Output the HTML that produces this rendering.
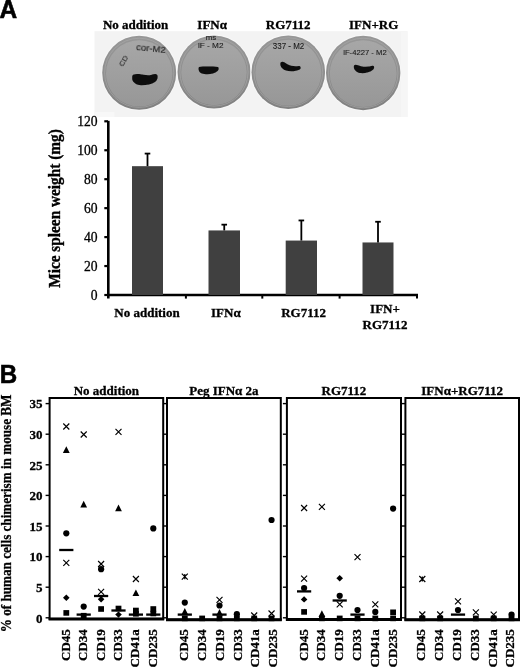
<!DOCTYPE html>
<html><head><meta charset="utf-8"><style>
html,body{margin:0;padding:0;background:#fff;}
svg{display:block;}
</style></head><body>
<svg width="520" height="667" viewBox="0 0 520 667">
<defs><linearGradient id="dishg" x1="0" y1="0" x2="0" y2="1"><stop offset="0" stop-color="#979797"/><stop offset="0.5" stop-color="#8f8f8f"/><stop offset="1" stop-color="#808080"/></linearGradient><linearGradient id="innerg" x1="0" y1="0" x2="0" y2="1"><stop offset="0" stop-color="#a7a7a7"/><stop offset="0.45" stop-color="#a0a0a0"/><stop offset="1" stop-color="#979797"/></linearGradient><filter id="blur1" x="-20%" y="-20%" width="140%" height="140%"><feGaussianBlur stdDeviation="0.45"/></filter><filter id="blur2" x="-20%" y="-20%" width="140%" height="140%"><feGaussianBlur stdDeviation="0.8"/></filter><filter id="gblur" x="0" y="0" width="100%" height="100%" filterUnits="userSpaceOnUse"><feGaussianBlur stdDeviation="0.35"/></filter></defs><g filter="url(#gblur)"><rect x="94.5" y="31.2" width="313" height="85.8" fill="#f3f3f3"/><rect x="401" y="31.2" width="6.5" height="85.8" fill="#f6f6f6"/><rect x="94.5" y="112" width="20" height="5" fill="#f8f8f8"/><circle cx="139.2" cy="72.8" r="38.0" fill="#f8f8f8"/><circle cx="139.2" cy="72.8" r="37" fill="url(#dishg)"/><circle cx="139.2" cy="72.8" r="34.6" fill="none" stroke="#ababab" stroke-width="1.0" opacity="0.6" filter="url(#blur1)"/><circle cx="139.2" cy="73.39999999999999" r="33.2" fill="url(#innerg)" filter="url(#blur1)"/><path d="M132.2,76.3 C132.5,74 136,73.6 139,74.1 C143,74.8 147,75.6 151,75 C153.5,74.4 156,73.4 157.3,74.9 C158.3,77 157.5,80 155,82 C151.5,84.4 146,85.4 141,85.3 C136.5,85.1 133,82.5 132.2,79.5 Z" fill="#0c0c0c" filter="url(#blur1)"/><text x="136" y="50.3" font-family="Liberation Sans, sans-serif" font-size="8.5" fill="#1a1a1a" stroke="#1a1a1a" stroke-width="0.1" filter="url(#blur1)" textLength="29.5" lengthAdjust="spacingAndGlyphs" transform="rotate(6 136 50.3)">cor-M2</text><text x="123" y="67" font-family="Liberation Sans, sans-serif" font-size="7.5" fill="#1a1a1a" stroke="#1a1a1a" stroke-width="0.1" filter="url(#blur1)" textLength="11" lengthAdjust="spacingAndGlyphs" transform="rotate(-60 123 67)">CD</text><circle cx="214" cy="72" r="37.5" fill="#f8f8f8"/><circle cx="214" cy="72" r="36.5" fill="url(#dishg)"/><circle cx="214" cy="72" r="34.1" fill="none" stroke="#ababab" stroke-width="1.0" opacity="0.6" filter="url(#blur1)"/><circle cx="214" cy="72.6" r="32.7" fill="url(#innerg)" filter="url(#blur1)"/><path d="M199,67 C203,66.3 213,66.5 218,66.9 C219.1,67.5 218.9,69.5 217.6,71 C215,73.4 211,74.3 207.5,74.3 C203,74.3 199.8,73.1 199,71 C198.4,69.5 198.4,67.8 199,67 Z" fill="#0c0c0c" filter="url(#blur1)"/><text x="205.8" y="39.8" font-family="Liberation Sans, sans-serif" font-size="7" fill="#1a1a1a" stroke="#1a1a1a" stroke-width="0.1" filter="url(#blur1)" textLength="10.5" lengthAdjust="spacingAndGlyphs" transform="rotate(0 205.8 39.8)">ms</text><text x="198" y="48.3" font-family="Liberation Sans, sans-serif" font-size="8" fill="#1a1a1a" stroke="#1a1a1a" stroke-width="0.1" filter="url(#blur1)" textLength="25.5" lengthAdjust="spacingAndGlyphs" transform="rotate(0 198 48.3)">lF - M2</text><circle cx="288.3" cy="72.2" r="37.8" fill="#f8f8f8"/><circle cx="288.3" cy="72.2" r="36.8" fill="url(#dishg)"/><circle cx="288.3" cy="72.2" r="34.4" fill="none" stroke="#ababab" stroke-width="1.0" opacity="0.6" filter="url(#blur1)"/><circle cx="288.3" cy="72.8" r="33.0" fill="url(#innerg)" filter="url(#blur1)"/><path d="M280.6,62.5 C282.2,60.6 284.8,62.2 287,64 C290.5,66.1 295,66.5 298.7,65.9 C300.9,65.8 301.3,68.3 299.8,69.5 C295.5,71.6 289.5,71.9 285.3,70.3 C281.8,68.8 279.4,65.3 280.6,62.5 Z" fill="#0c0c0c" filter="url(#blur1)"/><text x="272.8" y="48.9" font-family="Liberation Sans, sans-serif" font-size="8.5" fill="#1a1a1a" stroke="#1a1a1a" stroke-width="0.1" filter="url(#blur1)" textLength="31.5" lengthAdjust="spacingAndGlyphs" transform="rotate(0 272.8 48.9)">337 - M2</text><circle cx="363.2" cy="73" r="38.2" fill="#f8f8f8"/><circle cx="363.2" cy="73" r="37.2" fill="url(#dishg)"/><circle cx="363.2" cy="73" r="34.800000000000004" fill="none" stroke="#ababab" stroke-width="1.0" opacity="0.6" filter="url(#blur1)"/><circle cx="363.2" cy="73.6" r="33.400000000000006" fill="url(#innerg)" filter="url(#blur1)"/><path d="M354,65.6 C355.3,63.9 358,65.4 361,66.3 C365,67.3 369,66.9 372.3,65.7 C374.3,65.3 374.8,67.6 373.3,69.4 C370,72.4 364.5,73.6 360,73.1 C356,72.6 353,69 354,65.6 Z" fill="#0c0c0c" filter="url(#blur1)"/><text x="343.2" y="54.8" font-family="Liberation Sans, sans-serif" font-size="8" fill="#1a1a1a" stroke="#1a1a1a" stroke-width="0.1" filter="url(#blur1)" textLength="43.5" lengthAdjust="spacingAndGlyphs" transform="rotate(0 343.2 54.8)">lF-4227 - M2</text><text x="135.6" y="29.1" font-family='"Liberation Serif", serif' font-size="13" font-weight="bold" text-anchor="middle" stroke="#000" stroke-width="0.3" >No addition</text><text x="212.2" y="29.1" font-family='"Liberation Serif", serif' font-size="13" font-weight="bold" text-anchor="middle" stroke="#000" stroke-width="0.3" >IFN&#945;</text><text x="288.2" y="29.1" font-family='"Liberation Serif", serif' font-size="13" font-weight="bold" text-anchor="middle" stroke="#000" stroke-width="0.3" >RG7112</text><text x="373.7" y="29.1" font-family='"Liberation Serif", serif' font-size="13" font-weight="bold" text-anchor="middle" stroke="#000" stroke-width="0.3" >IFN+RG</text><text x="0" y="0" font-family='"Liberation Sans", sans-serif' font-size="26" font-weight="bold" stroke="#000" stroke-width="0.6" transform="translate(-0.6 17.6) scale(0.94 1)">A</text><line x1="108.3" y1="120.80000000000001" x2="108.3" y2="298.5" stroke="#000" stroke-width="2.6"/><line x1="104.3" y1="295.00" x2="108" y2="295.00" stroke="#000" stroke-width="2.2"/><text x="97.6" y="299.6" font-family='"Liberation Serif", serif' font-size="13.6" font-weight="normal" text-anchor="end" stroke="#000" stroke-width="0.3" >0</text><line x1="104.3" y1="266.05" x2="108" y2="266.05" stroke="#000" stroke-width="2.2"/><text x="97.6" y="270.65000000000003" font-family='"Liberation Serif", serif' font-size="13.6" font-weight="normal" text-anchor="end" stroke="#000" stroke-width="0.3" >20</text><line x1="104.3" y1="237.10" x2="108" y2="237.10" stroke="#000" stroke-width="2.2"/><text x="97.6" y="241.7" font-family='"Liberation Serif", serif' font-size="13.6" font-weight="normal" text-anchor="end" stroke="#000" stroke-width="0.3" >40</text><line x1="104.3" y1="208.15" x2="108" y2="208.15" stroke="#000" stroke-width="2.2"/><text x="97.6" y="212.75" font-family='"Liberation Serif", serif' font-size="13.6" font-weight="normal" text-anchor="end" stroke="#000" stroke-width="0.3" >60</text><line x1="104.3" y1="179.20" x2="108" y2="179.20" stroke="#000" stroke-width="2.2"/><text x="97.6" y="183.79999999999998" font-family='"Liberation Serif", serif' font-size="13.6" font-weight="normal" text-anchor="end" stroke="#000" stroke-width="0.3" >80</text><line x1="104.3" y1="150.25" x2="108" y2="150.25" stroke="#000" stroke-width="2.2"/><text x="97.6" y="154.85" font-family='"Liberation Serif", serif' font-size="13.6" font-weight="normal" text-anchor="end" stroke="#000" stroke-width="0.3" >100</text><line x1="104.3" y1="121.30" x2="108" y2="121.30" stroke="#000" stroke-width="2.2"/><text x="97.6" y="125.9" font-family='"Liberation Serif", serif' font-size="13.6" font-weight="normal" text-anchor="end" stroke="#000" stroke-width="0.3" >120</text><line x1="107" y1="295.0" x2="418" y2="295.0" stroke="#000" stroke-width="2.6"/><line x1="185.9" y1="295.0" x2="185.9" y2="298.6" stroke="#000" stroke-width="2"/><line x1="262.3" y1="295.0" x2="262.3" y2="298.6" stroke="#000" stroke-width="2"/><line x1="339.6" y1="295.0" x2="339.6" y2="298.6" stroke="#000" stroke-width="2"/><line x1="417" y1="295.0" x2="417" y2="298.6" stroke="#000" stroke-width="2"/><rect x="132" y="166.17" width="31" height="128.83" fill="#404040"/><line x1="147.5" y1="166.17" x2="147.5" y2="153.58" stroke="#000" stroke-width="1.8"/><line x1="144.7" y1="153.58" x2="150.3" y2="153.58" stroke="#000" stroke-width="1.8"/><rect x="208.5" y="230.44" width="31.5" height="64.56" fill="#404040"/><line x1="224.25" y1="230.44" x2="224.25" y2="224.65" stroke="#000" stroke-width="1.8"/><line x1="221.45" y1="224.65" x2="227.05" y2="224.65" stroke="#000" stroke-width="1.8"/><rect x="285.7" y="240.57" width="31.30000000000001" height="54.43" fill="#404040"/><line x1="301.35" y1="240.57" x2="301.35" y2="220.45" stroke="#000" stroke-width="1.8"/><line x1="298.55" y1="220.45" x2="304.15000000000003" y2="220.45" stroke="#000" stroke-width="1.8"/><rect x="362.5" y="242.46" width="31.0" height="52.54" fill="#404040"/><line x1="378.0" y1="242.46" x2="378.0" y2="221.76" stroke="#000" stroke-width="1.8"/><line x1="375.2" y1="221.76" x2="380.8" y2="221.76" stroke="#000" stroke-width="1.8"/><text x="147" y="316.5" font-family='"Liberation Serif", serif' font-size="13" font-weight="bold" text-anchor="middle" stroke="#000" stroke-width="0.3" >No addition</text><text x="225.9" y="316.5" font-family='"Liberation Serif", serif' font-size="13" font-weight="bold" text-anchor="middle" stroke="#000" stroke-width="0.3" >IFN&#945;</text><text x="303.6" y="316.5" font-family='"Liberation Serif", serif' font-size="13" font-weight="bold" text-anchor="middle" stroke="#000" stroke-width="0.3" >RG7112</text><text x="385" y="313.3" font-family='"Liberation Serif", serif' font-size="13" font-weight="bold" text-anchor="middle" stroke="#000" stroke-width="0.3" >IFN+</text><text x="385" y="328.6" font-family='"Liberation Serif", serif' font-size="13" font-weight="bold" text-anchor="middle" stroke="#000" stroke-width="0.3" >RG7112</text><text x="0" y="0" font-family='"Liberation Serif", serif' font-size="16" font-weight="bold" stroke="#000" stroke-width="0.35" text-anchor="middle" textLength="158.5" lengthAdjust="spacingAndGlyphs" transform="translate(59.8 208.5) rotate(-90)">Mice spleen weight (mg)</text><text x="0" y="0" font-family='"Liberation Sans", sans-serif' font-size="26" font-weight="bold" stroke="#000" stroke-width="0.6" transform="translate(-0.3 382.6) scale(0.93 1)">B</text><rect x="49.6" y="398.0" width="113.6" height="220.89999999999998" fill="none" stroke="#000" stroke-width="2"/><line x1="48.6" y1="618.9" x2="164.2" y2="618.9" stroke="#000" stroke-width="3"/><line x1="45.6" y1="617.80" x2="49.6" y2="617.80" stroke="#000" stroke-width="1.4"/><line x1="45.6" y1="587.20" x2="49.6" y2="587.20" stroke="#000" stroke-width="1.4"/><line x1="45.6" y1="556.60" x2="49.6" y2="556.60" stroke="#000" stroke-width="1.4"/><line x1="45.6" y1="526.00" x2="49.6" y2="526.00" stroke="#000" stroke-width="1.4"/><line x1="45.6" y1="495.40" x2="49.6" y2="495.40" stroke="#000" stroke-width="1.4"/><line x1="45.6" y1="464.80" x2="49.6" y2="464.80" stroke="#000" stroke-width="1.4"/><line x1="45.6" y1="434.20" x2="49.6" y2="434.20" stroke="#000" stroke-width="1.4"/><line x1="45.6" y1="403.60" x2="49.6" y2="403.60" stroke="#000" stroke-width="1.4"/><text x="106.39999999999999" y="394.5" font-family='"Liberation Serif", serif' font-size="13" font-weight="bold" text-anchor="middle" stroke="#000" stroke-width="0.3" >No addition</text><rect x="167.0" y="398.0" width="113.80000000000001" height="221.70000000000005" fill="none" stroke="#000" stroke-width="2"/><line x1="166.0" y1="619.7" x2="281.8" y2="619.7" stroke="#000" stroke-width="3"/><line x1="163.0" y1="617.80" x2="167.0" y2="617.80" stroke="#000" stroke-width="1.4"/><line x1="163.0" y1="587.20" x2="167.0" y2="587.20" stroke="#000" stroke-width="1.4"/><line x1="163.0" y1="556.60" x2="167.0" y2="556.60" stroke="#000" stroke-width="1.4"/><line x1="163.0" y1="526.00" x2="167.0" y2="526.00" stroke="#000" stroke-width="1.4"/><line x1="163.0" y1="495.40" x2="167.0" y2="495.40" stroke="#000" stroke-width="1.4"/><line x1="163.0" y1="464.80" x2="167.0" y2="464.80" stroke="#000" stroke-width="1.4"/><line x1="163.0" y1="434.20" x2="167.0" y2="434.20" stroke="#000" stroke-width="1.4"/><line x1="163.0" y1="403.60" x2="167.0" y2="403.60" stroke="#000" stroke-width="1.4"/><text x="223.9" y="394.5" font-family='"Liberation Serif", serif' font-size="13" font-weight="bold" text-anchor="middle" stroke="#000" stroke-width="0.3" >Peg IFN&#945; 2a</text><rect x="286.9" y="398.0" width="114.10000000000002" height="221.60000000000002" fill="none" stroke="#000" stroke-width="2"/><line x1="285.9" y1="619.6" x2="402.0" y2="619.6" stroke="#000" stroke-width="3"/><line x1="282.9" y1="617.80" x2="286.9" y2="617.80" stroke="#000" stroke-width="1.4"/><line x1="282.9" y1="587.20" x2="286.9" y2="587.20" stroke="#000" stroke-width="1.4"/><line x1="282.9" y1="556.60" x2="286.9" y2="556.60" stroke="#000" stroke-width="1.4"/><line x1="282.9" y1="526.00" x2="286.9" y2="526.00" stroke="#000" stroke-width="1.4"/><line x1="282.9" y1="495.40" x2="286.9" y2="495.40" stroke="#000" stroke-width="1.4"/><line x1="282.9" y1="464.80" x2="286.9" y2="464.80" stroke="#000" stroke-width="1.4"/><line x1="282.9" y1="434.20" x2="286.9" y2="434.20" stroke="#000" stroke-width="1.4"/><line x1="282.9" y1="403.60" x2="286.9" y2="403.60" stroke="#000" stroke-width="1.4"/><text x="343.95" y="394.5" font-family='"Liberation Serif", serif' font-size="13" font-weight="bold" text-anchor="middle" stroke="#000" stroke-width="0.3" >RG7112</text><rect x="405.4" y="398.0" width="113.60000000000002" height="221.70000000000005" fill="none" stroke="#000" stroke-width="2"/><line x1="404.4" y1="619.7" x2="520" y2="619.7" stroke="#000" stroke-width="3"/><line x1="401.4" y1="617.80" x2="405.4" y2="617.80" stroke="#000" stroke-width="1.4"/><line x1="401.4" y1="587.20" x2="405.4" y2="587.20" stroke="#000" stroke-width="1.4"/><line x1="401.4" y1="556.60" x2="405.4" y2="556.60" stroke="#000" stroke-width="1.4"/><line x1="401.4" y1="526.00" x2="405.4" y2="526.00" stroke="#000" stroke-width="1.4"/><line x1="401.4" y1="495.40" x2="405.4" y2="495.40" stroke="#000" stroke-width="1.4"/><line x1="401.4" y1="464.80" x2="405.4" y2="464.80" stroke="#000" stroke-width="1.4"/><line x1="401.4" y1="434.20" x2="405.4" y2="434.20" stroke="#000" stroke-width="1.4"/><line x1="401.4" y1="403.60" x2="405.4" y2="403.60" stroke="#000" stroke-width="1.4"/><text x="462.2" y="394.5" font-family='"Liberation Serif", serif' font-size="13" font-weight="bold" text-anchor="middle" stroke="#000" stroke-width="0.3" >IFN&#945;+RG7112</text><text x="42.6" y="622.5999999999999" font-family='"Liberation Serif", serif' font-size="13" font-weight="bold" text-anchor="end" stroke="#000" stroke-width="0.3" >0</text><text x="42.6" y="591.9999999999999" font-family='"Liberation Serif", serif' font-size="13" font-weight="bold" text-anchor="end" stroke="#000" stroke-width="0.3" >5</text><text x="42.6" y="561.3999999999999" font-family='"Liberation Serif", serif' font-size="13" font-weight="bold" text-anchor="end" stroke="#000" stroke-width="0.3" >10</text><text x="42.6" y="530.8" font-family='"Liberation Serif", serif' font-size="13" font-weight="bold" text-anchor="end" stroke="#000" stroke-width="0.3" >15</text><text x="42.6" y="500.2" font-family='"Liberation Serif", serif' font-size="13" font-weight="bold" text-anchor="end" stroke="#000" stroke-width="0.3" >20</text><text x="42.6" y="469.59999999999997" font-family='"Liberation Serif", serif' font-size="13" font-weight="bold" text-anchor="end" stroke="#000" stroke-width="0.3" >25</text><text x="42.6" y="438.99999999999994" font-family='"Liberation Serif", serif' font-size="13" font-weight="bold" text-anchor="end" stroke="#000" stroke-width="0.3" >30</text><text x="42.6" y="408.4" font-family='"Liberation Serif", serif' font-size="13" font-weight="bold" text-anchor="end" stroke="#000" stroke-width="0.3" >35</text><text x="0" y="0" font-family='"Liberation Serif", serif' font-size="14" font-weight="bold" stroke="#000" stroke-width="0.3" text-anchor="middle" textLength="237.7" lengthAdjust="spacingAndGlyphs" transform="translate(11.2 513.4) rotate(-90)">% of human cells chimerism in mouse BM</text><text x="0" y="0" font-family='"Liberation Serif", serif' font-size="13.3" font-weight="bold" text-anchor="end" stroke="#000" stroke-width="0.3" textLength="31.6" lengthAdjust="spacingAndGlyphs" transform="translate(69.90 629.3) rotate(-90)">CD45</text><text x="0" y="0" font-family='"Liberation Serif", serif' font-size="13.3" font-weight="bold" text-anchor="end" stroke="#000" stroke-width="0.3" textLength="31.6" lengthAdjust="spacingAndGlyphs" transform="translate(87.25 629.3) rotate(-90)">CD34</text><text x="0" y="0" font-family='"Liberation Serif", serif' font-size="13.3" font-weight="bold" text-anchor="end" stroke="#000" stroke-width="0.3" textLength="31.6" lengthAdjust="spacingAndGlyphs" transform="translate(104.60 629.3) rotate(-90)">CD19</text><text x="0" y="0" font-family='"Liberation Serif", serif' font-size="13.3" font-weight="bold" text-anchor="end" stroke="#000" stroke-width="0.3" textLength="31.6" lengthAdjust="spacingAndGlyphs" transform="translate(121.95 629.3) rotate(-90)">CD33</text><text x="0" y="0" font-family='"Liberation Serif", serif' font-size="13.3" font-weight="bold" text-anchor="end" stroke="#000" stroke-width="0.3" textLength="38.2" lengthAdjust="spacingAndGlyphs" transform="translate(139.30 629.3) rotate(-90)">CD41a</text><text x="0" y="0" font-family='"Liberation Serif", serif' font-size="13.3" font-weight="bold" text-anchor="end" stroke="#000" stroke-width="0.3" textLength="38.2" lengthAdjust="spacingAndGlyphs" transform="translate(156.65 629.3) rotate(-90)">CD235</text><text x="0" y="0" font-family='"Liberation Serif", serif' font-size="13.3" font-weight="bold" text-anchor="end" stroke="#000" stroke-width="0.3" textLength="31.6" lengthAdjust="spacingAndGlyphs" transform="translate(188.30 629.3) rotate(-90)">CD45</text><text x="0" y="0" font-family='"Liberation Serif", serif' font-size="13.3" font-weight="bold" text-anchor="end" stroke="#000" stroke-width="0.3" textLength="31.6" lengthAdjust="spacingAndGlyphs" transform="translate(206.05 629.3) rotate(-90)">CD34</text><text x="0" y="0" font-family='"Liberation Serif", serif' font-size="13.3" font-weight="bold" text-anchor="end" stroke="#000" stroke-width="0.3" textLength="31.6" lengthAdjust="spacingAndGlyphs" transform="translate(223.80 629.3) rotate(-90)">CD19</text><text x="0" y="0" font-family='"Liberation Serif", serif' font-size="13.3" font-weight="bold" text-anchor="end" stroke="#000" stroke-width="0.3" textLength="31.6" lengthAdjust="spacingAndGlyphs" transform="translate(241.55 629.3) rotate(-90)">CD33</text><text x="0" y="0" font-family='"Liberation Serif", serif' font-size="13.3" font-weight="bold" text-anchor="end" stroke="#000" stroke-width="0.3" textLength="38.2" lengthAdjust="spacingAndGlyphs" transform="translate(259.30 629.3) rotate(-90)">CD41a</text><text x="0" y="0" font-family='"Liberation Serif", serif' font-size="13.3" font-weight="bold" text-anchor="end" stroke="#000" stroke-width="0.3" textLength="38.2" lengthAdjust="spacingAndGlyphs" transform="translate(277.05 629.3) rotate(-90)">CD235</text><text x="0" y="0" font-family='"Liberation Serif", serif' font-size="13.3" font-weight="bold" text-anchor="end" stroke="#000" stroke-width="0.3" textLength="31.6" lengthAdjust="spacingAndGlyphs" transform="translate(307.60 629.3) rotate(-90)">CD45</text><text x="0" y="0" font-family='"Liberation Serif", serif' font-size="13.3" font-weight="bold" text-anchor="end" stroke="#000" stroke-width="0.3" textLength="31.6" lengthAdjust="spacingAndGlyphs" transform="translate(325.40 629.3) rotate(-90)">CD34</text><text x="0" y="0" font-family='"Liberation Serif", serif' font-size="13.3" font-weight="bold" text-anchor="end" stroke="#000" stroke-width="0.3" textLength="31.6" lengthAdjust="spacingAndGlyphs" transform="translate(343.20 629.3) rotate(-90)">CD19</text><text x="0" y="0" font-family='"Liberation Serif", serif' font-size="13.3" font-weight="bold" text-anchor="end" stroke="#000" stroke-width="0.3" textLength="31.6" lengthAdjust="spacingAndGlyphs" transform="translate(361.00 629.3) rotate(-90)">CD33</text><text x="0" y="0" font-family='"Liberation Serif", serif' font-size="13.3" font-weight="bold" text-anchor="end" stroke="#000" stroke-width="0.3" textLength="38.2" lengthAdjust="spacingAndGlyphs" transform="translate(378.80 629.3) rotate(-90)">CD41a</text><text x="0" y="0" font-family='"Liberation Serif", serif' font-size="13.3" font-weight="bold" text-anchor="end" stroke="#000" stroke-width="0.3" textLength="38.2" lengthAdjust="spacingAndGlyphs" transform="translate(396.60 629.3) rotate(-90)">CD235</text><text x="0" y="0" font-family='"Liberation Serif", serif' font-size="13.3" font-weight="bold" text-anchor="end" stroke="#000" stroke-width="0.3" textLength="31.6" lengthAdjust="spacingAndGlyphs" transform="translate(425.20 629.3) rotate(-90)">CD45</text><text x="0" y="0" font-family='"Liberation Serif", serif' font-size="13.3" font-weight="bold" text-anchor="end" stroke="#000" stroke-width="0.3" textLength="31.6" lengthAdjust="spacingAndGlyphs" transform="translate(443.05 629.3) rotate(-90)">CD34</text><text x="0" y="0" font-family='"Liberation Serif", serif' font-size="13.3" font-weight="bold" text-anchor="end" stroke="#000" stroke-width="0.3" textLength="31.6" lengthAdjust="spacingAndGlyphs" transform="translate(460.90 629.3) rotate(-90)">CD19</text><text x="0" y="0" font-family='"Liberation Serif", serif' font-size="13.3" font-weight="bold" text-anchor="end" stroke="#000" stroke-width="0.3" textLength="31.6" lengthAdjust="spacingAndGlyphs" transform="translate(478.75 629.3) rotate(-90)">CD33</text><text x="0" y="0" font-family='"Liberation Serif", serif' font-size="13.3" font-weight="bold" text-anchor="end" stroke="#000" stroke-width="0.3" textLength="38.2" lengthAdjust="spacingAndGlyphs" transform="translate(496.60 629.3) rotate(-90)">CD41a</text><text x="0" y="0" font-family='"Liberation Serif", serif' font-size="13.3" font-weight="bold" text-anchor="end" stroke="#000" stroke-width="0.3" textLength="38.2" lengthAdjust="spacingAndGlyphs" transform="translate(514.45 629.3) rotate(-90)">CD235</text><path d="M63.3,423.5L69.3,429.5M63.3,429.5L69.3,423.5" stroke="#000" stroke-width="1.15" fill="none"/><path d="M80.7,431.5L86.7,437.5M80.7,437.5L86.7,431.5" stroke="#000" stroke-width="1.15" fill="none"/><path d="M115.5,428.8L121.5,434.8M115.5,434.8L121.5,428.8" stroke="#000" stroke-width="1.15" fill="none"/><path d="M66.3,446.3L69.7,453.0L62.9,453.0Z" fill="#000"/><path d="M83.7,500.7L87.10000000000001,507.4L80.3,507.4Z" fill="#000"/><path d="M118.5,504.6L121.9,511.3L115.1,511.3Z" fill="#000"/><circle cx="66.3" cy="533.3" r="3.1" fill="#000"/><circle cx="153.3" cy="528.4" r="3.1" fill="#000"/><line x1="59.199999999999996" y1="550" x2="73.39999999999999" y2="550" stroke="#000" stroke-width="2.3"/><path d="M63.3,559.9L69.3,565.9M63.3,565.9L69.3,559.9" stroke="#000" stroke-width="1.15" fill="none"/><path d="M98.1,561.0L104.1,567.0M98.1,567.0L104.1,561.0" stroke="#000" stroke-width="1.15" fill="none"/><circle cx="101.1" cy="569.2" r="3.1" fill="#000"/><path d="M132.9,576.0L138.9,582.0M132.9,582.0L138.9,576.0" stroke="#000" stroke-width="1.15" fill="none"/><path d="M98.1,588.9L104.1,594.9M98.1,594.9L104.1,588.9" stroke="#000" stroke-width="1.15" fill="none"/><path d="M135.9,589.4L139.3,596.1L132.5,596.1Z" fill="#000"/><line x1="94.0" y1="596" x2="108.19999999999999" y2="596" stroke="#000" stroke-width="2.3"/><path d="M101.1,596.0L104.39999999999999,599.2L101.1,602.4000000000001L97.8,599.2Z" fill="#000"/><path d="M66.3,594.5L69.6,597.7L66.3,600.9000000000001L63.0,597.7Z" fill="#000"/><circle cx="83.7" cy="606.6" r="3.1" fill="#000"/><rect x="63.4" y="610.1" width="5.8" height="5.6" fill="#000"/><rect x="98.19999999999999" y="606.2" width="5.8" height="5.6" fill="#000"/><line x1="76.60000000000001" y1="614.6" x2="90.8" y2="614.6" stroke="#000" stroke-width="2.3"/><rect x="80.8" y="612.9000000000001" width="5.8" height="5.6" fill="#000"/><rect x="115.6" y="605.7" width="5.8" height="5.6" fill="#000"/><line x1="111.4" y1="610.5" x2="125.6" y2="610.5" stroke="#000" stroke-width="2.3"/><path d="M118.5,611.4L121.8,614.6L118.5,617.8000000000001L115.2,614.6Z" fill="#000"/><rect x="133.0" y="607.7" width="5.8" height="5.6" fill="#000"/><line x1="128.8" y1="614.6" x2="143.0" y2="614.6" stroke="#000" stroke-width="2.3"/><line x1="146.20000000000002" y1="614.6" x2="160.4" y2="614.6" stroke="#000" stroke-width="2.3"/><rect x="150.4" y="606.2" width="5.8" height="5.6" fill="#000"/><rect x="133.0" y="611.0" width="5.8" height="5.6" fill="#000"/><rect x="150.4" y="610.7" width="5.8" height="5.6" fill="#000"/><circle cx="271.55" cy="520" r="3.1" fill="#000"/><path d="M181.8,573.7L187.8,579.7M181.8,579.7L187.8,573.7M184.8,574.1L184.8,579.3000000000001" stroke="#000" stroke-width="1.2" fill="none"/><circle cx="184.8" cy="602.6" r="3.1" fill="#000"/><path d="M184.8,608.0L188.20000000000002,614.7L181.4,614.7Z" fill="#000"/><line x1="177.70000000000002" y1="614.6" x2="191.9" y2="614.6" stroke="#000" stroke-width="2.3"/><rect x="181.9" y="615.6" width="5.8" height="5.6" fill="#000"/><rect x="199.25" y="615.6" width="5.8" height="5.6" fill="#000"/><path d="M216.5,596.8L222.5,602.8M216.5,602.8L222.5,596.8" stroke="#000" stroke-width="1.15" fill="none"/><circle cx="219.5" cy="605.5" r="3.1" fill="#000"/><path d="M219.5,609.0999999999999L222.9,615.8L216.1,615.8Z" fill="#000"/><line x1="212.4" y1="614.6" x2="226.6" y2="614.6" stroke="#000" stroke-width="2.3"/><rect x="216.6" y="615.6" width="5.8" height="5.6" fill="#000"/><circle cx="236.85" cy="614.2" r="3.1" fill="#000"/><rect x="233.95" y="615.6" width="5.8" height="5.6" fill="#000"/><path d="M251.2,612.5L257.2,618.5M251.2,618.5L257.2,612.5" stroke="#000" stroke-width="1.15" fill="none"/><rect x="251.29999999999998" y="615.6" width="5.8" height="5.6" fill="#000"/><path d="M268.55,610.5L274.55,616.5M268.55,616.5L274.55,610.5" stroke="#000" stroke-width="1.15" fill="none"/><rect x="268.65000000000003" y="615.6" width="5.8" height="5.6" fill="#000"/><path d="M301.1,505.0L307.1,511.0M301.1,511.0L307.1,505.0" stroke="#000" stroke-width="1.15" fill="none"/><path d="M318.9,503.8L324.9,509.8M318.9,509.8L324.9,503.8" stroke="#000" stroke-width="1.15" fill="none"/><circle cx="393.1" cy="508.6" r="3.1" fill="#000"/><path d="M354.5,554.2L360.5,560.2M354.5,560.2L360.5,554.2" stroke="#000" stroke-width="1.15" fill="none"/><path d="M301.1,575.7L307.1,581.7M301.1,581.7L307.1,575.7" stroke="#000" stroke-width="1.15" fill="none"/><path d="M339.7,575.0999999999999L343.0,578.3L339.7,581.5L336.4,578.3Z" fill="#000"/><circle cx="304.1" cy="588" r="3.1" fill="#000"/><line x1="297.0" y1="591.4" x2="311.20000000000005" y2="591.4" stroke="#000" stroke-width="2.3"/><path d="M304.1,596.1999999999999L307.40000000000003,599.4L304.1,602.6L300.8,599.4Z" fill="#000"/><rect x="301.20000000000005" y="609.1" width="5.8" height="5.6" fill="#000"/><circle cx="339.7" cy="595.8" r="3.1" fill="#000"/><line x1="332.59999999999997" y1="600.5" x2="346.8" y2="600.5" stroke="#000" stroke-width="2.3"/><path d="M336.7,601.4L342.7,607.4M336.7,607.4L342.7,601.4" stroke="#000" stroke-width="1.15" fill="none"/><rect x="336.8" y="615.6" width="5.8" height="5.6" fill="#000"/><path d="M321.9,610.3L325.29999999999995,617.0L318.5,617.0Z" fill="#000"/><rect x="319.0" y="615.6" width="5.8" height="5.6" fill="#000"/><path d="M372.3,601.4L378.3,607.4M372.3,607.4L378.3,601.4" stroke="#000" stroke-width="1.15" fill="none"/><circle cx="357.5" cy="610" r="3.1" fill="#000"/><line x1="350.4" y1="614.6" x2="364.6" y2="614.6" stroke="#000" stroke-width="2.3"/><rect x="354.6" y="615.6" width="5.8" height="5.6" fill="#000"/><circle cx="375.3" cy="611.9" r="3.1" fill="#000"/><rect x="372.40000000000003" y="615.6" width="5.8" height="5.6" fill="#000"/><rect x="390.20000000000005" y="609.5" width="5.8" height="5.6" fill="#000"/><rect x="390.20000000000005" y="615.6" width="5.8" height="5.6" fill="#000"/><path d="M419.3,576.0L425.3,582.0M419.3,582.0L425.3,576.0M422.3,576.4L422.3,581.6" stroke="#000" stroke-width="1.2" fill="none"/><path d="M455.0,598.4L461.0,604.4M455.0,604.4L461.0,598.4" stroke="#000" stroke-width="1.15" fill="none"/><circle cx="458.0" cy="610" r="3.1" fill="#000"/><line x1="450.9" y1="614.6" x2="465.1" y2="614.6" stroke="#000" stroke-width="2.3"/><path d="M419.3,611.5L425.3,617.5M419.3,617.5L425.3,611.5" stroke="#000" stroke-width="1.15" fill="none"/><rect x="419.40000000000003" y="615.6" width="5.8" height="5.6" fill="#000"/><path d="M437.15,611.5L443.15,617.5M437.15,617.5L443.15,611.5" stroke="#000" stroke-width="1.15" fill="none"/><rect x="437.25" y="615.6" width="5.8" height="5.6" fill="#000"/><path d="M472.85,609.3L478.85,615.3M472.85,615.3L478.85,609.3" stroke="#000" stroke-width="1.15" fill="none"/><rect x="472.95000000000005" y="615.6" width="5.8" height="5.6" fill="#000"/><path d="M490.7,611.6L496.7,617.6M490.7,617.6L496.7,611.6" stroke="#000" stroke-width="1.15" fill="none"/><rect x="490.8" y="615.6" width="5.8" height="5.6" fill="#000"/><circle cx="511.55" cy="614.5" r="3.1" fill="#000"/><rect x="508.65000000000003" y="615.6" width="5.8" height="5.6" fill="#000"/></g>
</svg>
</body></html>
